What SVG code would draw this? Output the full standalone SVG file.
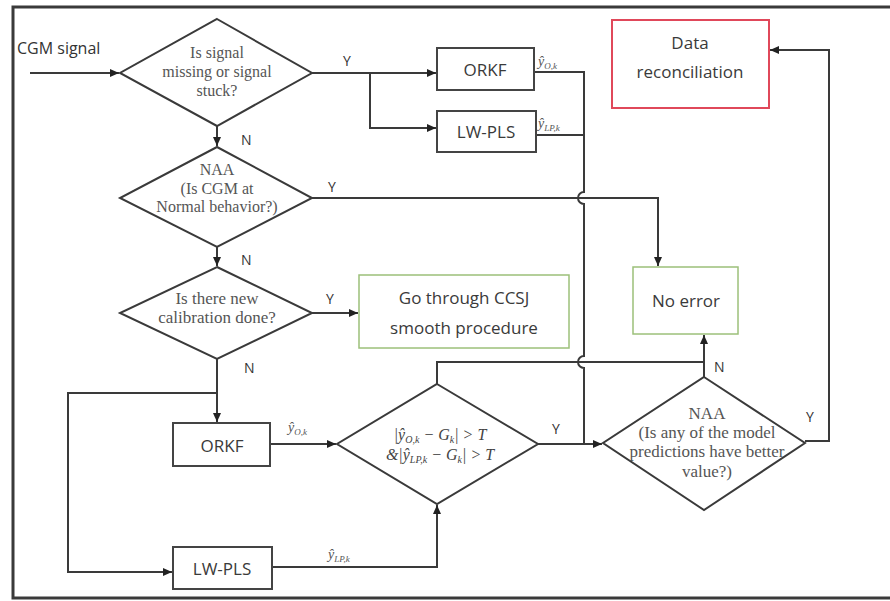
<svg xmlns="http://www.w3.org/2000/svg" width="890" height="601" viewBox="0 0 890 601">
<style>
.frame{fill:none;stroke:#3a3a3a;stroke-width:3}
.box{fill:#fff;stroke:#444;stroke-width:2}
.gbox{fill:#fff;stroke:#9cc07a;stroke-width:1.5}
.rbox{fill:#fff;stroke:#e0485a;stroke-width:2}
.dia{fill:#fff;stroke:#3a3a3a;stroke-width:2}
.ln{fill:none;stroke:#3a3a3a;stroke-width:2}
.bt{font-family:"Open Sans","Liberation Sans",sans-serif;font-size:17px;fill:#3a3a3a;text-anchor:middle}
.dt{font-family:"Liberation Serif",serif;font-size:16px;fill:#555;text-anchor:middle}
.lb{font-family:"Open Sans","Liberation Sans",sans-serif;font-size:14px;fill:#333}
.mt{font-family:"Liberation Serif",serif;font-style:italic;font-size:14px;fill:#555}
.mc{font-family:"Liberation Serif",serif;font-style:italic;font-size:16px;fill:#444;text-anchor:middle}
</style>
<defs>
<marker id="ah" markerWidth="10" markerHeight="10" refX="9" refY="5" orient="auto" markerUnits="userSpaceOnUse">
<path d="M0,1 L9,5 L0,9 Z" fill="#222"/>
</marker>
</defs>
<rect x="0" y="0" width="890" height="601" fill="#fff"/>
<rect class="frame" x="13" y="7" width="890" height="591"/>

<g id="connectors">
<path class="ln" d="M30,73 H119" marker-end="url(#ah)"/>
<path class="ln" d="M312,73 H436" marker-end="url(#ah)"/>
<path class="ln" d="M370,73 V128 H436" marker-end="url(#ah)"/>
<path class="ln" d="M217,126 V146" marker-end="url(#ah)"/>
<path class="ln" d="M217,247 V266" marker-end="url(#ah)"/>
<path class="ln" d="M534,72 H584 V192 A6,6 0 0,0 584,204 V356 A6,6 0 0,0 584,368 V444"/>
<path class="ln" d="M536,135 H584"/>
<path class="ln" d="M312,198 H658 V266" marker-end="url(#ah)"/>
<path class="ln" d="M312,313 H358" marker-end="url(#ah)"/>
<path class="ln" d="M217,359 V422" marker-end="url(#ah)"/>
<path class="ln" d="M217,393 H68 V572 H172" marker-end="url(#ah)"/>
<path class="ln" d="M270,444 H336" marker-end="url(#ah)"/>
<path class="ln" d="M272,567 H437 V505" marker-end="url(#ah)"/>
<path class="ln" d="M437,384 V362 H704"/>
<path class="ln" d="M538,444 H602" marker-end="url(#ah)"/>
<path class="ln" d="M704,377 V335" marker-end="url(#ah)"/>
<path class="ln" d="M805,441 H829 V50 H770" marker-end="url(#ah)"/>
</g>

<g id="labels">
<text class="lb" x="17" y="54" style="font-size:16px">CGM signal</text>
<text class="lb" x="343" y="66">Y</text>
<text class="lb" x="241" y="145">N</text>
<text class="lb" x="328" y="192">Y</text>
<text class="lb" x="241" y="265">N</text>
<text class="lb" x="326" y="304">Y</text>
<text class="lb" x="244" y="373">N</text>
<text class="lb" x="552" y="434">Y</text>
<text class="lb" x="714" y="372">N</text>
<text class="lb" x="806" y="422">Y</text>
<text class="mt" x="538" y="66">ŷ<tspan font-size="9" dy="3">O,k</tspan></text>
<text class="mt" x="538" y="128">ŷ<tspan font-size="9" dy="3">LP,k</tspan></text>
<text class="mt" x="288" y="432">ŷ<tspan font-size="9" dy="3">O,k</tspan></text>
<text class="mt" x="328" y="559">ŷ<tspan font-size="9" dy="3">LP,k</tspan></text>
</g>

<g id="d1">
<polygon class="dia" points="217,19 312,73 217,126 120,73"/>
<text class="dt" x="217" y="58">Is signal</text>
<text class="dt" x="217" y="77">missing or signal</text>
<text class="dt" x="217" y="96">stuck?</text>
</g>
<g id="d2">
<polygon class="dia" points="217,147 312,198 217,247 120,198"/>
<text class="dt" x="217" y="175">NAA</text>
<text class="dt" x="217" y="194">(Is CGM at</text>
<text class="dt" x="217" y="212">Normal behavior?)</text>
</g>
<g id="d3">
<polygon class="dia" points="217,267 312,313 217,359 120,313"/>
<text class="dt" x="217" y="304" style="font-size:17px">Is there new</text>
<text class="dt" x="217" y="323" style="font-size:17px">calibration done?</text>
</g>
<g id="orkf1">
<rect class="box" x="437" y="48" width="97" height="42"/>
<text class="bt" x="485" y="76">ORKF</text>
</g>
<g id="lwpls1">
<rect class="box" x="437" y="111" width="99" height="41"/>
<text class="bt" x="486" y="138">LW-PLS</text>
</g>
<g id="datarec">
<rect class="rbox" x="612" y="20" width="157" height="88"/>
<text class="bt" x="690" y="49">Data</text>
<text class="bt" x="690" y="78">reconciliation</text>
</g>
<g id="ccsj">
<rect class="gbox" x="359" y="275" width="210" height="73"/>
<text class="bt" x="464" y="304">Go through CCSJ</text>
<text class="bt" x="464" y="334">smooth procedure</text>
</g>
<g id="noerror">
<rect class="gbox" x="633" y="267" width="105" height="67"/>
<text class="bt" x="686" y="307">No error</text>
</g>
<g id="orkf2">
<rect class="box" x="173" y="423" width="97" height="43"/>
<text class="bt" x="222" y="452">ORKF</text>
</g>
<g id="lwpls2">
<rect class="box" x="173" y="547" width="99" height="42"/>
<text class="bt" x="222" y="575">LW-PLS</text>
</g>
<g id="d4">
<polygon class="dia" points="437,384 538,444 437,504 337,444"/>
<text class="mc" x="440" y="440">|ŷ<tspan font-size="10" dy="3">O,k</tspan><tspan dy="-3"> − G</tspan><tspan font-size="10" dy="3">k</tspan><tspan dy="-3">| &gt; T</tspan></text>
<text class="mc" x="440" y="460">&amp;|ŷ<tspan font-size="10" dy="3">LP,k</tspan><tspan dy="-3"> − G</tspan><tspan font-size="10" dy="3">k</tspan><tspan dy="-3">| &gt; T</tspan></text>
</g>
<g id="d5">
<polygon class="dia" points="704,377 805,443 704,510 603,443"/>
<text class="dt" x="707" y="419" style="font-size:17px">NAA</text>
<text class="dt" x="707" y="438" style="font-size:17px">(Is any of the model</text>
<text class="dt" x="707" y="457" style="font-size:17px">predictions have better</text>
<text class="dt" x="707" y="477" style="font-size:17px">value?)</text>
</g>
</svg>
